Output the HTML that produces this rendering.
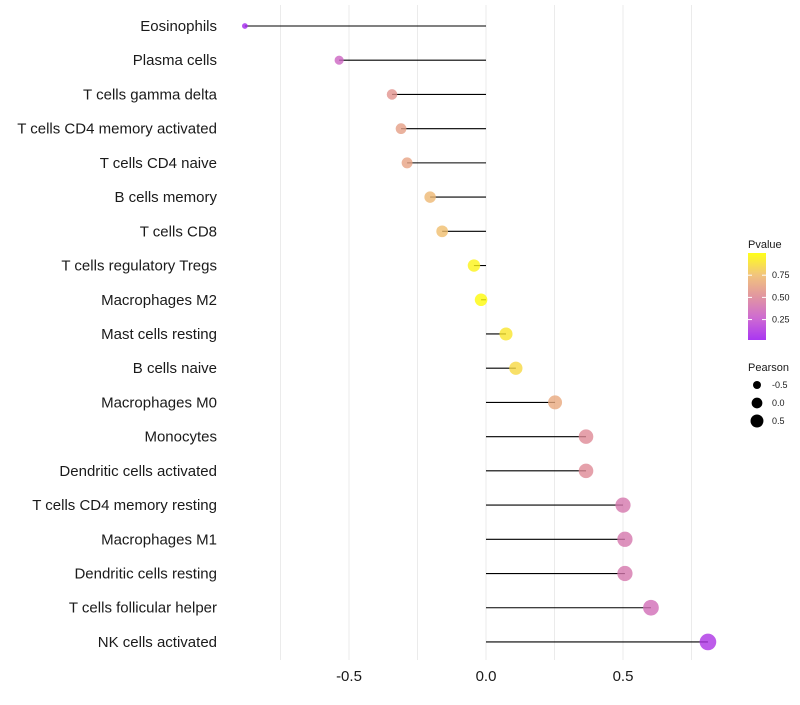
<!DOCTYPE html>
<html><head><meta charset="utf-8"><style>
body{margin:0;background:#fff;font-family:"Liberation Sans",sans-serif}
</style></head><body>
<svg id="c" width="800" height="700" xmlns="http://www.w3.org/2000/svg"></svg>
<script>
const categories=["Eosinophils","Plasma cells","T cells gamma delta","T cells CD4 memory activated","T cells CD4 naive","B cells memory","T cells CD8","T cells regulatory  Tregs ","Macrophages M2","Mast cells resting","B cells naive","Macrophages M0","Monocytes","Dendritic cells activated","T cells CD4 memory resting","Macrophages M1","Dendritic cells resting","T cells follicular helper","NK cells activated"];
const pearson=[-0.88,-0.536,-0.343,-0.31,-0.288,-0.204,-0.16,-0.044,-0.018,0.073,0.109,0.252,0.365,0.365,0.5,0.507,0.507,0.602,0.81];
const pvalue=[0.02,0.3,0.55,0.6,0.62,0.72,0.75,0.95,0.98,0.9,0.85,0.65,0.5,0.5,0.4,0.4,0.4,0.35,0.08];
const xTicks=[-0.5,0,0.5];
const xTickLabels=["-0.5","0.0","0.5"];
const gridVals=[-0.75,-0.5,-0.25,0,0.25,0.5,0.75];
const legendP=[0.25,0.5,0.75];
const legendPLabels=["0.25","0.50","0.75"];
const legendR=[-0.5,0,0.5];
const legendRLabels=["-0.5","0.0","0.5"];

const NS="http://www.w3.org/2000/svg",svg=document.getElementById('c');
const x=v=>486+v*274;
const y=i=>26+i*34.22;
const rad=v=>Math.sqrt(Math.max(4,40+36*v));
const stops=[[0,[160,32,240]],[0.25,[200,90,205]],[0.5,[222,138,150]],[0.75,[240,190,110]],[1,[255,255,0]]];
function col(p){p=Math.max(0,Math.min(1,p));let k=0;while(k<stops.length-2&&p>stops[k+1][0])k++;
 const [p0,a]=stops[k],[p1,b]=stops[k+1];const f=(p-p0)/(p1-p0);
 return `rgb(${a.map((c,j)=>Math.round(c+(b[j]-c)*f)).join(',')})`;}
function mk(t,at,parent){const e=document.createElementNS(NS,t);for(const k in at)e.setAttribute(k,at[k]);(parent||svg).appendChild(e);return e;}

gridVals.forEach(g=>{const l=mk('line',{x1:x(g),x2:x(g),y1:5,y2:660,stroke:'#ebebeb','stroke-width':1});

});

categories.forEach((c,i)=>{
 const t=mk('text',{x:217,y:y(i)+5,'text-anchor':'end','font-size':15,fill:'#1a1a1a'});t.textContent=c;
 
 
 const l=mk('line',{x1:x(0),x2:x(pearson[i]),y1:y(i),y2:y(i),stroke:'#000','stroke-width':1.1});
 
 
 const p=mk('circle',{cx:x(pearson[i]),cy:y(i),r:rad(pearson[i]),fill:col(pvalue[i]),'fill-opacity':0.8});
 
 
});
xTicks.forEach((v,i)=>{const t=mk('text',{x:x(v),y:681,'text-anchor':'middle','font-size':15,fill:'#1a1a1a'});t.textContent=xTickLabels[i];

});

// legend
const lt=mk('text',{x:748,y:248,'font-size':11,fill:'#1a1a1a'});lt.textContent='Pvalue';


const defs=mk('defs',{});const gr=mk('linearGradient',{id:'g',x1:0,y1:1,x2:0,y2:0},defs);
[0,0.125,0.25,0.375,0.5,0.625,0.75,0.875,1].forEach(o=>mk('stop',{offset:o,'stop-color':col(o),'stop-opacity':0.9},gr));
const bar=mk('rect',{x:748,y:253,width:18,height:87,fill:'url(#g)'});


const cy=p=>340-(p-0.02)/0.98*87;
legendP.forEach((p,i)=>{mk('line',{x1:748,x2:752,y1:cy(p),y2:cy(p),stroke:'#fff'});mk('line',{x1:762,x2:766,y1:cy(p),y2:cy(p),stroke:'#fff'});
 const t=mk('text',{x:772,y:cy(p)+3,'font-size':9,fill:'#1a1a1a'});t.textContent=legendPLabels[i];
 
 });
const st=mk('text',{x:748,y:371,'font-size':11,fill:'#1a1a1a'});st.textContent='Pearson';


legendR.forEach((v,i)=>{const yy=385+i*18;
 const c=mk('circle',{cx:757,cy:yy,r:rad(v)*0.85,fill:'#000'});
 
 
 const t=mk('text',{x:772,y:yy+3,'font-size':9,fill:'#1a1a1a'});t.textContent=legendRLabels[i];
 
 });
</script>
</body></html>
